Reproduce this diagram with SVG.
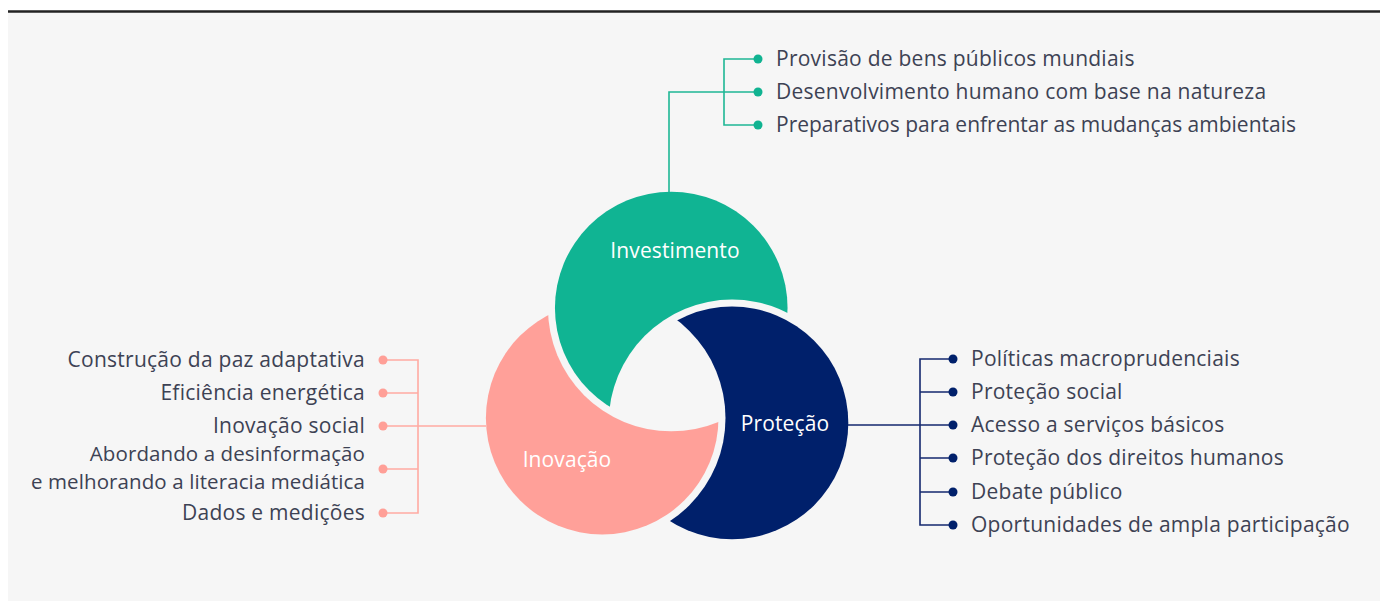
<svg xmlns="http://www.w3.org/2000/svg" width="1380" height="601" viewBox="0 0 1380 601">
  <style>
    .item { font-family: "Open Sans", "Liberation Sans", sans-serif; font-size: 21px; fill: #3d4254; letter-spacing: 0.25px; }
    .lbl { font-family: "Open Sans", "Liberation Sans", sans-serif; font-size: 21px; fill: #ffffff; text-anchor: middle; letter-spacing: 0.1px; }
    .end { text-anchor: end; }
    .tight { letter-spacing: 0; }
    .two { font-size: 20.5px; letter-spacing: 0.1px; }
    .cg { fill: none; stroke: #1fb795; stroke-width: 1.6; }
    .cp { fill: none; stroke: #ffaaa2; stroke-width: 1.6; }
    .cb { fill: none; stroke: #14296f; stroke-width: 1.6; }
    .dg { fill: #10b391; }
    .dp { fill: #ff9f97; }
    .db { fill: #00206b; }
  </style>
  <defs>
    <mask id="mG" maskUnits="userSpaceOnUse" x="0" y="0" width="1380" height="601">
      <rect x="0" y="0" width="1380" height="601" fill="#fff"/>
      <circle cx="732" cy="422.9" r="123.3" fill="#000"/>
    </mask>
    <mask id="mB" maskUnits="userSpaceOnUse" x="0" y="0" width="1380" height="601">
      <rect x="0" y="0" width="1380" height="601" fill="#fff"/>
      <circle cx="602.2" cy="418.1" r="123.3" fill="#000"/>
    </mask>
    <mask id="mP" maskUnits="userSpaceOnUse" x="0" y="0" width="1380" height="601">
      <rect x="0" y="0" width="1380" height="601" fill="#fff"/>
      <circle cx="671.25" cy="308.05" r="123.3" fill="#000"/>
    </mask>
  </defs>
  <rect x="0" y="0" width="1380" height="601" fill="#ffffff"/>
  <rect x="8" y="12.5" width="1372" height="588.5" fill="#f6f6f6"/>
  <line x1="8" y1="11.5" x2="1380" y2="11.5" stroke="#222222" stroke-width="2.5"/>

  <g id="connectors">
    <path class="cg" d="M669,192 V92 H758 M758,59 H724 V125 H758"/>
    <path class="cp" d="M486,426 H383 M383,360 H418 V513 H383 M418,393 H383 M418,469 H383"/>
    <path class="cb" d="M848,425 H953 M953,359 H920 V525 H953 M920,392 H953 M920,458 H953 M920,492 H953"/>
  </g>

  <g id="investimento">
    <circle cx="671.25" cy="308.05" r="116.3" fill="#10b493" mask="url(#mG)"/>
    <text class="lbl" x="675" y="258">Investimento</text>
  </g>
  <g id="protecao">
    <circle cx="732" cy="422.9" r="116.3" fill="#00206b" mask="url(#mB)"/>
    <text class="lbl" x="785" y="431">Proteção</text>
  </g>
  <g id="inovacao">
    <circle cx="602.2" cy="418.1" r="116.3" fill="#ffa099" mask="url(#mP)"/>
    <text class="lbl" x="567" y="467">Inovação</text>
  </g>

  <g id="investimento-items">
    <circle class="dg" cx="758" cy="59" r="4.5"/>
    <circle class="dg" cx="758" cy="92" r="4.5"/>
    <circle class="dg" cx="758" cy="125" r="4.5"/>
    <text class="item" x="776" y="66">Provisão de bens públicos mundiais</text>
    <text class="item" x="776" y="99">Desenvolvimento humano com base na natureza</text>
    <text class="item tight" x="776" y="132">Preparativos para enfrentar as mudanças ambientais</text>
  </g>

  <g id="inovacao-items">
    <circle class="dp" cx="383" cy="360" r="4.5"/>
    <circle class="dp" cx="383" cy="393" r="4.5"/>
    <circle class="dp" cx="383" cy="426" r="4.5"/>
    <circle class="dp" cx="383" cy="469" r="4.5"/>
    <circle class="dp" cx="383" cy="513" r="4.5"/>
    <text class="item end" x="365" y="367">Construção da paz adaptativa</text>
    <text class="item end" x="365" y="400">Eficiência energética</text>
    <text class="item end" x="365" y="433">Inovação social</text>
    <text class="item end two" x="365" y="461"><tspan x="365" y="461">Abordando a desinformação</tspan><tspan x="365" y="489">e melhorando a literacia mediática</tspan></text>
    <text class="item end" x="365" y="520">Dados e medições</text>
  </g>

  <g id="protecao-items">
    <circle class="db" cx="953" cy="359" r="4.5"/>
    <circle class="db" cx="953" cy="392" r="4.5"/>
    <circle class="db" cx="953" cy="425" r="4.5"/>
    <circle class="db" cx="953" cy="458" r="4.5"/>
    <circle class="db" cx="953" cy="492" r="4.5"/>
    <circle class="db" cx="953" cy="525" r="4.5"/>
    <text class="item" x="971" y="366">Políticas macroprudenciais</text>
    <text class="item" x="971" y="399">Proteção social</text>
    <text class="item" x="971" y="432">Acesso a serviços básicos</text>
    <text class="item" x="971" y="465">Proteção dos direitos humanos</text>
    <text class="item" x="971" y="499">Debate público</text>
    <text class="item" x="971" y="532">Oportunidades de ampla participação</text>
  </g>
</svg>
